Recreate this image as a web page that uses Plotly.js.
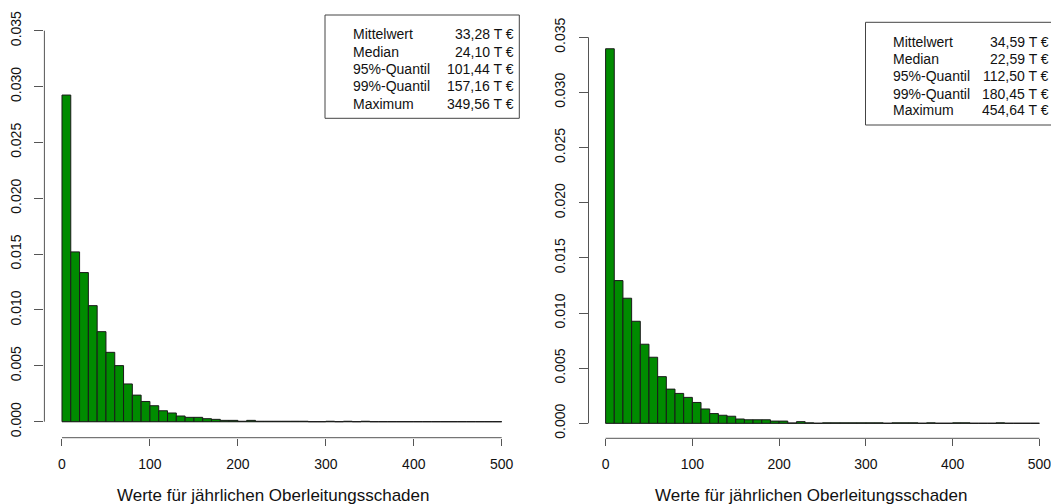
<!DOCTYPE html>
<html>
<head>
<meta charset="utf-8">
<script src="https://cdn.plot.ly/plotly-3.0.1.min.js"></script>
<style>html,body{margin:0;padding:0;background:#fff;}#chart{width:1051px;height:504px;}</style>
</head>
<body>
<div id="chart"></div>
<script>
// ---- data ----
const binWidth = 10;
const leftDensity = [
  0.02924, 0.01520, 0.01335, 0.01039, 0.00806, 0.00621, 0.00502, 0.00338, 0.00238, 0.00181,
  0.00143, 0.00098, 0.00078, 0.00051, 0.00039, 0.00039, 0.00027, 0.00021, 0.00012, 0.00012,
  0.00004, 0.00012, 0.00004, 0.00004, 0.00004, 0.00004, 0.00004, 0.00004, 0, 0,
  0.00004, 0, 0.00004, 0, 0.00004, 0, 0, 0, 0, 0,
  0, 0, 0, 0, 0, 0, 0, 0, 0, 0
];
const rightDensity = [
  0.03396, 0.01294, 0.01134, 0.00925, 0.00717, 0.00599, 0.00423, 0.00310, 0.00271, 0.00235,
  0.00189, 0.00130, 0.00088, 0.00073, 0.00064, 0.00039, 0.00032, 0.00032, 0.00032, 0.00020,
  0.00020, 0.00003, 0.00015, 0.00004, 0, 0.00004, 0.00004, 0.00004, 0.00004, 0.00004,
  0.00004, 0.00004, 0, 0.00004, 0.00004, 0.00004, 0, 0.00004, 0, 0,
  0.00004, 0.00004, 0, 0, 0, 0.00004, 0, 0, 0, 0
];
const xTicks = [0, 100, 200, 300, 400, 500];
const yTicks = [0, 0.005, 0.010, 0.015, 0.020, 0.025, 0.030, 0.035];
const statLabels = ["Mittelwert", "Median", "95%-Quantil", "99%-Quantil", "Maximum"];
const leftStats = ["33,28 T €", "24,10 T €", "101,44 T €", "157,16 T €", "349,56 T €"];
const rightStats = ["34,59 T €", "22,59 T €", "112,50 T €", "180,45 T €", "454,64 T €"];
const xTitle = "Werte für jährlichen Oberleitungsschaden";

// ---- layout helpers ----
const W = 1051, H = 504;
const px = v => v / W;
const py = v => 1 - v / H;
const FONT = "Liberation Sans, Arial, Helvetica, sans-serif";
const TXT = "#111";
const AX = "#555";

function binStarts(arr) { return arr.map((_, i) => i * binWidth); }

function barTrace(dens, xa, ya) {
  return {
    type: "bar", x: binStarts(dens), y: dens, width: binWidth, offset: 0,
    xaxis: xa, yaxis: ya,
    marker: { color: "#008B00", line: { color: "#1a1a1a", width: 1 } },
    hoverinfo: "skip", showlegend: false
  };
}

const data = [barTrace(leftDensity, "x", "y"), barTrace(rightDensity, "x2", "y2")];

function xAxis(domain, range, anchor) {
  return {
    domain: domain, range: range, anchor: anchor,
    showgrid: false, zeroline: false, showline: false,
    tickmode: "array", tickvals: xTicks, ticktext: xTicks.map(String),
    ticks: "outside", ticklen: 7, tickwidth: 1, tickcolor: AX,
    ticklabelstandoff: 6, ticklabeloverflow: "allow",
    tickfont: { family: FONT, size: 14, color: TXT }, fixedrange: true
  };
}
function yAxis(domain, range, anchor) {
  return {
    domain: domain, range: range, anchor: anchor,
    showgrid: false, zeroline: false, showline: false,
    tickmode: "array", tickvals: yTicks, ticktext: yTicks.map(v => v.toFixed(3)),
    ticks: "outside", ticklen: 9, tickwidth: 1, tickcolor: AX, tickangle: -90,
    ticklabelstandoff: 8, ticklabeloverflow: "allow",
    tickfont: { family: FONT, size: 14, color: TXT }, fixedrange: true
  };
}

const Lbot = 437.7, Rbot = 438.3;
const layout = {
  width: W, height: H,
  margin: { l: 0, r: 0, t: 0, b: 0, pad: 0 },
  paper_bgcolor: "#fff", plot_bgcolor: "#fff",
  bargap: 0,
  xaxis: xAxis([px(44.4), px(519.3)], [-20, 520], "y"),
  yaxis: yAxis([1 - Lbot / H, 1], [-16 / 11171, 421.7 / 11171], "x"),
  xaxis2: xAxis([px(588.5), 1], [-19.71, 513.4], "y2"),
  yaxis2: yAxis([1 - Rbot / H, 1], [-15 / 11029, 423.3 / 11029], "x2"),
  shapes: [],
  annotations: []
};

// axis lines (R style: spanning first to last tick only)
[["x", "y", Lbot, 44.4], ["x2", "y2", Rbot, 588.5]].forEach(([xa, ya, bot, left]) => {
  layout.shapes.push({ type: "line", xref: xa, yref: "paper", x0: xTicks[0], x1: xTicks[xTicks.length - 1],
    y0: py(bot), y1: py(bot), line: { color: AX, width: 1 } });
  layout.shapes.push({ type: "line", xref: "paper", yref: ya, x0: px(left), x1: px(left),
    y0: yTicks[0], y1: yTicks[yTicks.length - 1], line: { color: AX, width: 1 } });
  layout.shapes.push({ type: "line", xref: xa, yref: ya, x0: xTicks[0], x1: xTicks[xTicks.length - 1],
    y0: 0, y1: 0, line: { color: "#888", width: 1 }, layer: "below" });
});

// stats boxes
function statBox(x0, x1, y0, y1, labelX, valueX, rowY, values) {
  layout.shapes.push({ type: "rect", xref: "paper", yref: "paper",
    x0: px(x0), x1: px(x1), y0: py(y0), y1: py(y1),
    line: { color: "#444", width: 1 }, fillcolor: "rgba(255,255,255,1)" });
  statLabels.forEach((lab, i) => {
    const y = rowY[i];
    layout.annotations.push({ xref: "paper", yref: "paper", x: px(labelX), y: py(y),
      xanchor: "left", yanchor: "middle", text: lab, showarrow: false,
      font: { family: FONT, size: 14, color: TXT }, borderpad: 0 });
    layout.annotations.push({ xref: "paper", yref: "paper", x: px(valueX), y: py(y),
      xanchor: "right", yanchor: "middle", text: values[i], showarrow: false,
      font: { family: FONT, size: 14, color: TXT }, borderpad: 0 });
  });
}
statBox(325, 519.3, 15, 118.3, 351.7, 515, [34.3, 51.7, 69, 86.3, 103.7], leftStats);
statBox(865.5, 1062, 22.3, 125, 891.7, 1049.5, [41.7, 59, 76.3, 93.7, 110.3], rightStats);

// axis titles
[273, 811].forEach(cx => {
  layout.annotations.push({ xref: "paper", yref: "paper", x: px(cx), y: py(495),
    xanchor: "center", yanchor: "middle", text: xTitle, showarrow: false,
    font: { family: FONT, size: 17, color: TXT }, borderpad: 0 });
});

Plotly.newPlot("chart", data, layout, { displayModeBar: false, staticPlot: true });
</script>
</body>
</html>
